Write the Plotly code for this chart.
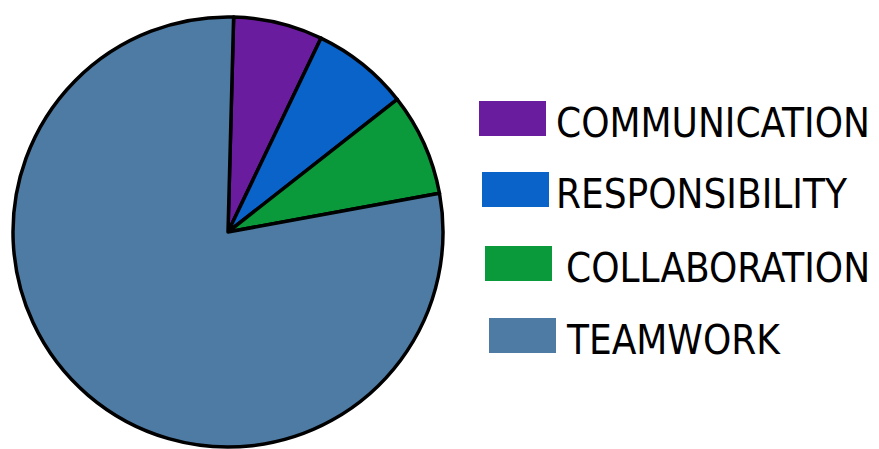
import plotly.graph_objects as go

# ---- data ----
labels = ["COMMUNICATION", "RESPONSIBILITY", "COLLABORATION", "TEAMWORK"]
values = [6.7, 7.3, 7.7, 78.3]
colors = ["#6A1C9E", "#0A63C8", "#0B9A3B", "#4E7BA3"]

W, H = 879, 449

def px(x):
    return x / W

def py(y):
    return 1 - y / H

fig = go.Figure()
fig.add_trace(go.Pie(
    labels=labels,
    values=values,
    sort=False,
    direction="clockwise",
    rotation=1.5,
    textinfo="none",
    hoverinfo="label+percent",
    marker=dict(colors=colors, line=dict(color="black", width=3.5)),
    domain=dict(x=[px(0), px(440)], y=[py(439), py(9)]),
    showlegend=False,
))

# custom legend (large swatches + hand-lettered style labels)
box_left = [471, 474, 477, 481]
box_top = [93, 164, 238, 310]
text_left = [546, 546, 556, 556]
box_w, box_h = 67, 35

shapes = []
annotations = []
for i, (lab, col) in enumerate(zip(labels, colors)):
    x0 = box_left[i]
    y0 = box_top[i]
    shapes.append(dict(
        type="rect", xref="paper", yref="paper",
        x0=px(x0), x1=px(x0 + box_w), y0=py(y0 + box_h), y1=py(y0),
        fillcolor=col, line=dict(width=0),
    ))
    annotations.append(dict(
        xref="paper", yref="paper",
        x=px(text_left[i]), y=py(y0 + box_h / 2 + 4),
        xanchor="left", yanchor="middle",
        text=lab, showarrow=False,
        font=dict(family="DejaVu Sans Condensed, DejaVu Sans", size=40, color="black"),
    ))

fig.update_layout(
    width=W, height=H,
    margin=dict(l=0, r=0, t=0, b=0),
    paper_bgcolor="white",
    plot_bgcolor="white",
    shapes=shapes,
    annotations=annotations,
)

fig.write_html("out.html")
